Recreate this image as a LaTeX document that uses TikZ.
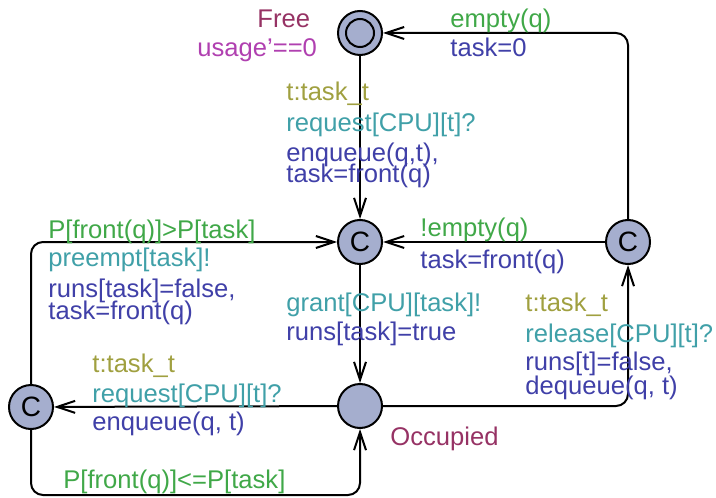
\documentclass[tikz,border=0pt]{standalone}
\usepackage{fontspec}
\setmainfont{Liberation Sans}
\usetikzlibrary{arrows.meta}

\definecolor{locfill}{HTML}{A5AECE}
\definecolor{selcol}{HTML}{A0A040}
\definecolor{guardcol}{HTML}{40A848}
\definecolor{synccol}{HTML}{40A0A8}
\definecolor{updcol}{HTML}{4040A8}
\definecolor{namecol}{HTML}{963264}
\definecolor{invcol}{HTML}{B040B0}

\tikzset{
  loc/.style={circle, draw=black, line width=1pt, fill=locfill, minimum size=22pt, inner sep=0pt},
  committed/.style={loc, font=\fontsize{14pt}{16pt}\selectfont},
  edge/.style={line width=1pt, rounded corners=6pt, -{Straight Barb[length=9pt,width=6pt,line width=1pt]}},
  lbl/.style={anchor=base west, inner sep=0pt, font=\fontsize{12.8pt}{14pt}\selectfont},
  sel/.style={lbl, text=selcol},
  guard/.style={lbl, text=guardcol},
  sync/.style={lbl, text=synccol},
  upd/.style={lbl, text=updcol},
  lname/.style={lbl, text=namecol},
  inv/.style={lbl, text=invcol},
}

\begin{document}
\begin{tikzpicture}[x=0.5pt, y=-0.5pt]
\useasboundingbox (0,0) rectangle (716,497);

% locations
\node[loc] (free) at (360,33) {};
\draw[line width=1pt] (free.center) circle[radius=7pt];
\node[committed] (mc) at (360,242) {C};
\node[committed] (rc) at (628,242) {C};
\node[committed] (lc) at (31,407) {C};
\node[loc] (occ) at (360,406) {};
\coordinate (br) at (360,495);

% location names and invariant
\node[lname] (nfree) at (257,28) {Free};
\node[inv] (ifree) at (197,57) {usage'==0};
\node[lname] (nocc) at (390,445) {Occupied};

% transitions
\draw[edge] (rc) |- (free);
\draw[edge] (free) -- (mc);
\draw[edge] (rc) -- (mc);
\draw[edge] (mc) -- (occ);
\draw[edge] (occ) -| (rc);
\draw[edge] (occ) -- (lc);
\draw[edge] (lc) |- (mc);
\draw[edge] (lc) |- (br) -- (occ);

% labels: right C -> Free
\node[guard] (g1) at (450,28) {empty(q)};
\node[upd] (u1) at (450,57) {task=0};

% labels: Free -> middle C
\node[sel] (s2) at (286,101) {t:task\_t};
\node[sync] (y2) at (286,132) {request[CPU][t]?};
\node[upd] (u2a) at (286,162) {enqueue(q,t),};
\node[upd] (u2b) at (286,183) {task=front(q)};

% labels: right C -> middle C
\node[guard] (g3) at (420,236) {!empty(q)};
\node[upd] (u3) at (420,268) {task=front(q)};

% labels: middle C -> Occupied
\node[sync] (y4) at (286,311) {grant[CPU][task]!};
\node[upd] (u4) at (286,340) {runs[task]=true};

% labels: Occupied -> right C
\node[sel] (s5) at (525,311) {t:task\_t};
\node[sync] (y5) at (525,342) {release[CPU][t]?};
\node[upd] (u5a) at (525,370) {runs[t]=false,};
\node[upd] (u5b) at (525,394) {dequeue(q, t)};

% labels: Occupied -> left C
\node[sel] (s6) at (92,372) {t:task\_t};
\node[sync] (y6) at (92,402) {request[CPU][t]?};
\node[upd] (u6) at (92,430) {enqueue(q, t)};

% labels: left C -> middle C
\node[guard] (g7) at (48,238) {P[front(q)]>P[task]};
\node[sync] (y7) at (48,266) {preempt[task]!};
\node[upd] (u7a) at (48,297) {runs[task]=false,};
\node[upd] (u7b) at (48,319) {task=front(q)};

% labels: left C -> Occupied
\node[guard] (g8) at (63,488) {P[front(q)]<=P[task]};
\end{tikzpicture}
\end{document}
